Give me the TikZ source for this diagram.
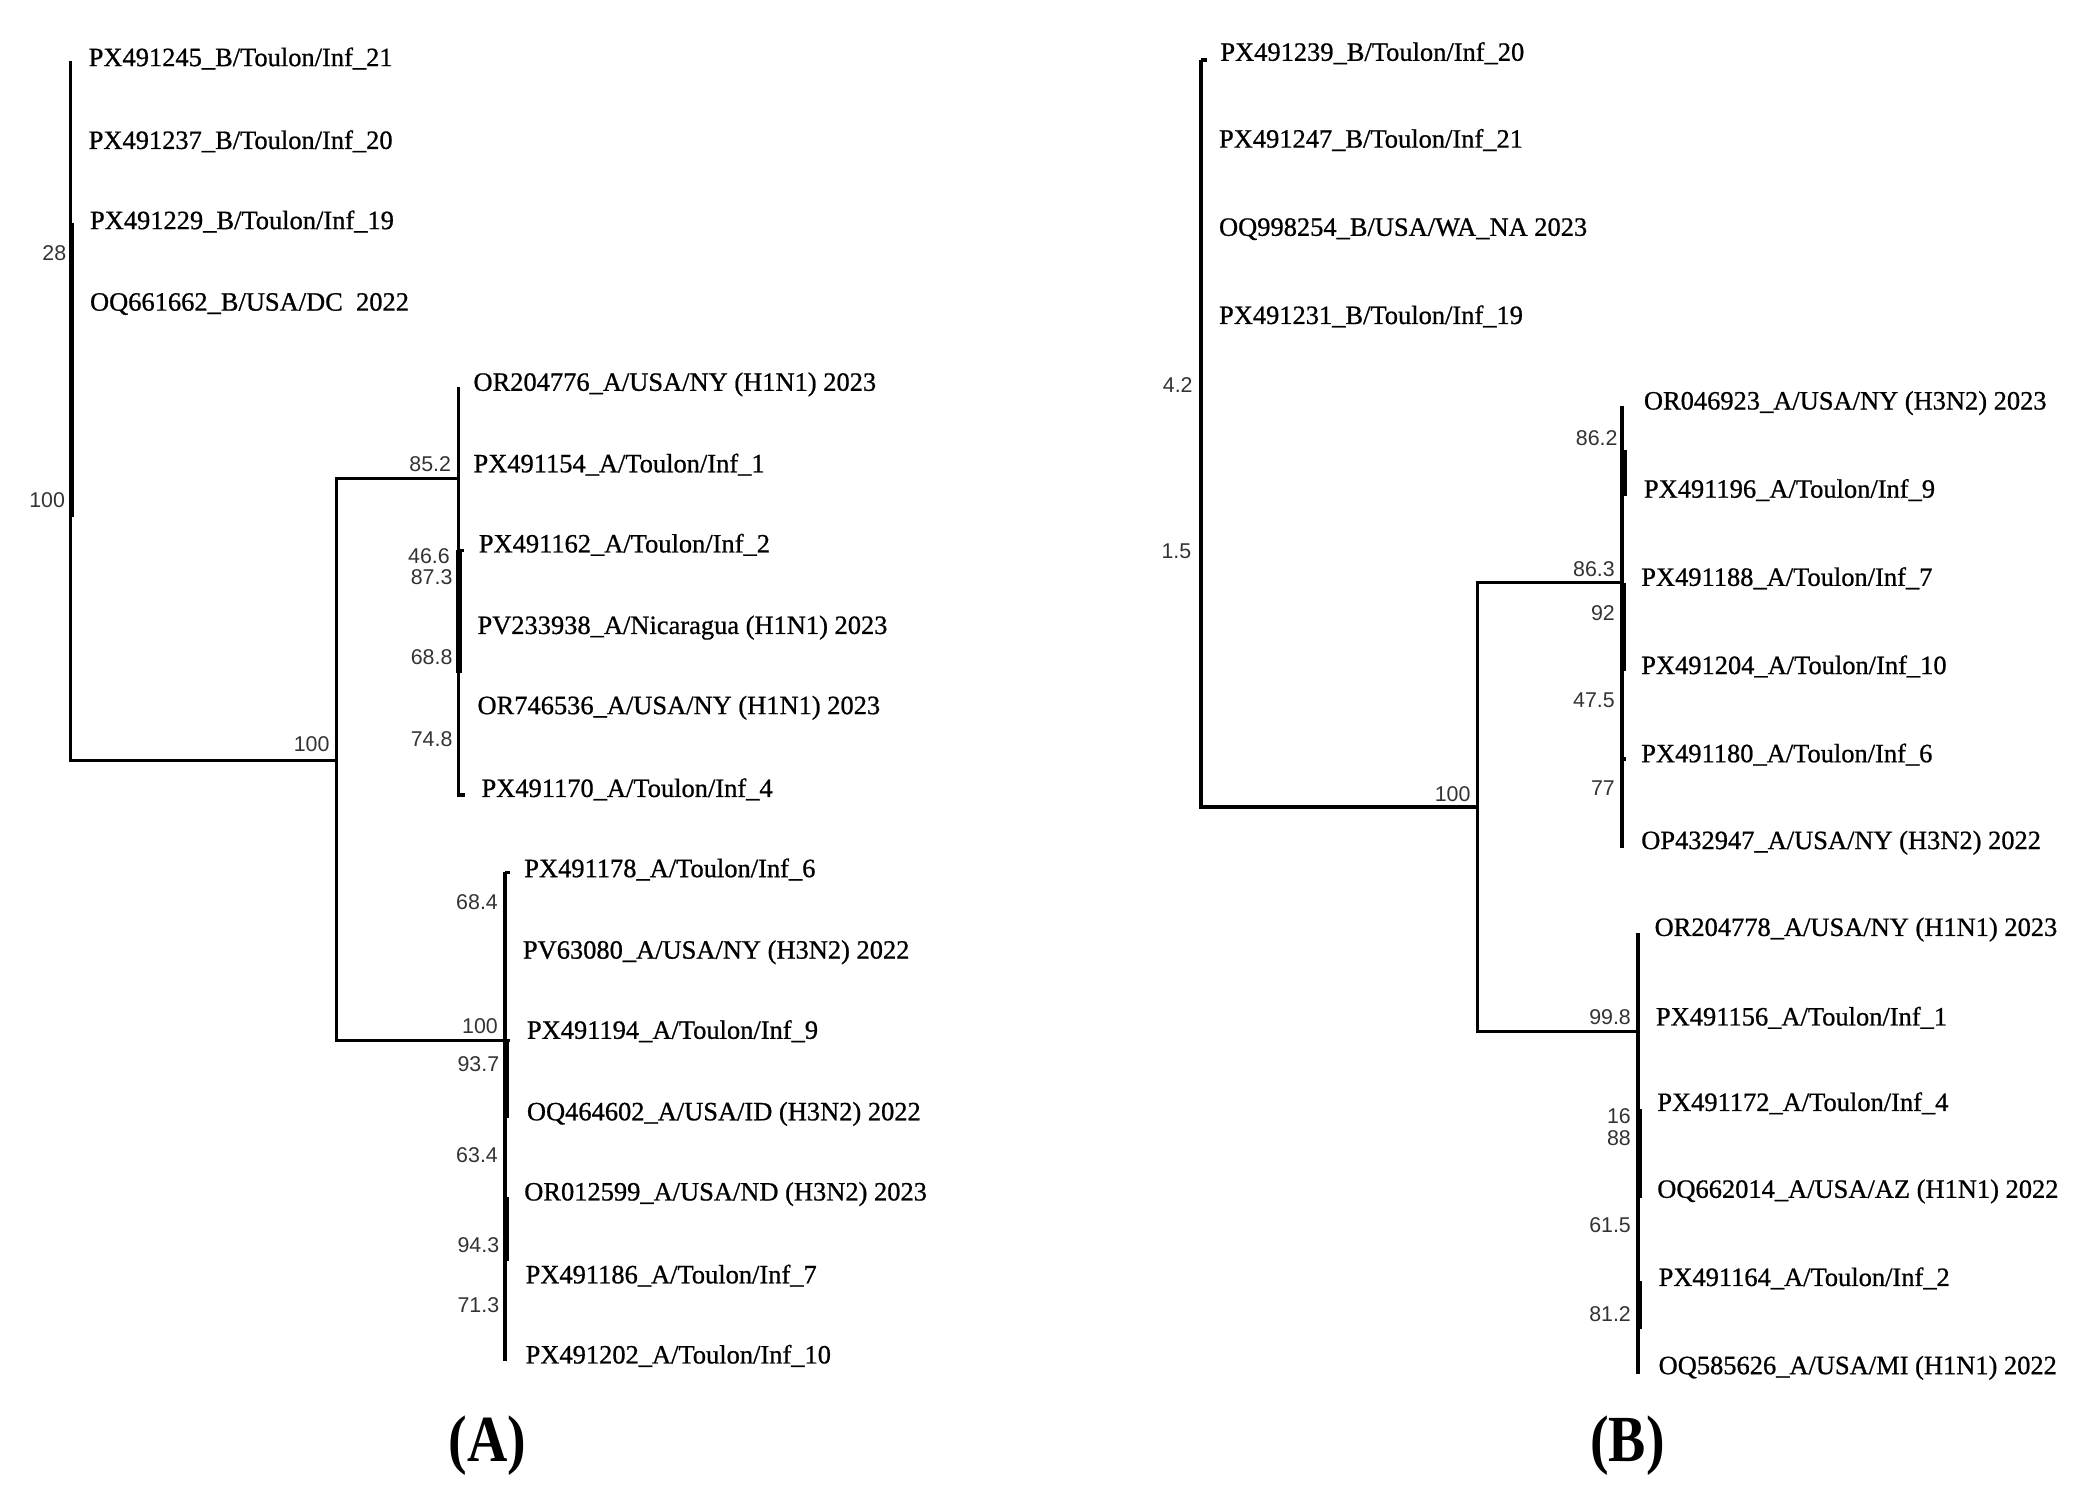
\documentclass[tikz,border=0pt]{standalone}
\usepackage{fontspec}
\setmainfont{Liberation Serif}
\newfontfamily\leaffont[FakeBold=0.8]{Liberation Serif}
\newfontfamily\numfont{Liberation Sans}
\begin{document}
\begin{tikzpicture}[x=0.5pt,y=-0.5pt,
  br/.style={line width=1.25pt,line join=miter,line cap=butt},
  thk/.style={line width=2.2pt,line cap=butt},
  leaf/.style={font=\leaffont\fontsize{9.9}{11}\selectfont,anchor=west,inner sep=0pt,text height=6.5pt,text depth=0pt},
  bs/.style={font=\numfont\fontsize{8}{9}\selectfont,text=black!80,anchor=east,inner sep=0pt,text height=5.7pt,text depth=0pt},
  panellabel/.style={font=\bfseries\fontsize{22}{24}\selectfont,inner sep=0pt,transform shape,yscale=1.12,xscale=0.95}]
\useasboundingbox (0,0) rectangle (1568,1127);
% ================= Panel A =================
\coordinate (RAt) at (53,46);
\coordinate (RA) at (53,569);
\coordinate (A1) at (252,569);
\coordinate (A1t) at (252,358);
\coordinate (A1b) at (252,779);
\coordinate (A2) at (343,358);
\coordinate (A2t) at (343,290);
\coordinate (A2b) at (343,595);
\coordinate (A3) at (378,779);
\coordinate (A3t) at (378,653);
\coordinate (A3b) at (378,1019);
\draw[br] (RAt) -- (RA) -- (A1);
\draw[br] (A2) -- (A1t) -- (A1b) -- (A3);
\draw[br] (A2t) -- (A2b) -- ++(5,0);
\draw[br] (A3t) -- (A3b);
\draw[br] (A3t) -- ++(4,0);
\draw[br] (A3) -- ++(4,0);
\draw[thk] (53.5,167) -- (53.5,387);
\draw[thk] (343.5,412) -- (343.5,504);
\draw[br] (343,412) -- ++(4,0);
\draw[thk] (378.5,778) -- (378.5,837);
\draw[thk] (378.5,896) -- (378.5,944);
% leaves A
\node[leaf] (la1) at (66,43) {PX491245\_B/Toulon/Inf\_21};
\node[leaf] (la2) at (66,105) {PX491237\_B/Toulon/Inf\_20};
\node[leaf] (la3) at (67,165) {PX491229\_B/Toulon/Inf\_19};
\node[leaf] (la4) at (67,226) {OQ661662\_B/USA/DC~~2022};
\node[leaf] (la5) at (354,286) {OR204776\_A/USA/NY (H1N1) 2023};
\node[leaf] (la6) at (354,347) {PX491154\_A/Toulon/Inf\_1};
\node[leaf] (la7) at (358,407) {PX491162\_A/Toulon/Inf\_2};
\node[leaf] (la8) at (357,468) {PV233938\_A/Nicaragua (H1N1) 2023};
\node[leaf] (la9) at (357,528) {OR746536\_A/USA/NY (H1N1) 2023};
\node[leaf] (la10) at (360,590) {PX491170\_A/Toulon/Inf\_4};
\node[leaf] (la11) at (392,650) {PX491178\_A/Toulon/Inf\_6};
\node[leaf] (la12) at (391,711) {PV63080\_A/USA/NY (H3N2) 2022};
\node[leaf] (la13) at (394,771) {PX491194\_A/Toulon/Inf\_9};
\node[leaf] (la14) at (394,832) {OQ464602\_A/USA/ID (H3N2) 2022};
\node[leaf] (la15) at (392,892) {OR012599\_A/USA/ND (H3N2) 2023};
\node[leaf] (la16) at (393,954) {PX491186\_A/Toulon/Inf\_7};
\node[leaf] (la17) at (393,1014) {PX491202\_A/Toulon/Inf\_10};
% bootstrap A
\node[bs] (na1) at (50,189) {28};
\node[bs] (na2) at (49,374) {100};
\node[bs] (na3) at (247,557) {100};
\node[bs] (na4) at (338,347) {85.2};
\node[bs] (na5) at (337,416) {46.6};
\node[bs] (na6) at (339,432) {87.3};
\node[bs] (na7) at (339,492) {68.8};
\node[bs] (na8) at (339,553) {74.8};
\node[bs] (na9) at (373,675) {68.4};
\node[bs] (na10) at (373,768) {100};
\node[bs] (na11) at (374,796) {93.7};
\node[bs] (na12) at (373,864) {63.4};
\node[bs] (na13) at (374,932) {94.3};
\node[bs] (na14) at (374,977) {71.3};
% ================= Panel B =================
\coordinate (RBt) at (899,45);
\coordinate (RB) at (899,604);
\coordinate (B1) at (1106,604);
\coordinate (B1t) at (1106,436);
\coordinate (B1b) at (1106,772);
\coordinate (B2) at (1214,436);
\coordinate (B2t) at (1214,304);
\coordinate (B2b) at (1214,635);
\coordinate (B3) at (1226,772);
\coordinate (B3t) at (1226,698);
\coordinate (B3b) at (1226,1028);
\draw[br] (RBt) -- (RB) -- (B1);
\draw[br] (RBt) -- ++(4,0);
\draw[br] (B2) -- (B1t) -- (B1b) -- (B3);
\draw[br] (B2t) -- (B2b);
\draw[br] (B3t) -- (B3b);
\draw[line width=2.8pt] (1215,337) -- (1215,371);
\draw[thk] (1214.5,436) -- (1214.5,502);
\draw[br] (1214,568) -- ++(3,0);
\draw[thk] (1226.5,830) -- (1226.5,897);
\draw[thk] (1226.5,959) -- (1226.5,995);
% leaves B
\node[leaf] (lb1) at (913,39) {PX491239\_B/Toulon/Inf\_20};
\node[leaf] (lb2) at (912,104) {PX491247\_B/Toulon/Inf\_21};
\node[leaf] (lb3) at (912,170) {OQ998254\_B/USA/WA\_NA 2023};
\node[leaf] (lb4) at (912,236) {PX491231\_B/Toulon/Inf\_19};
\node[leaf] (lb5) at (1230,300) {OR046923\_A/USA/NY (H3N2) 2023};
\node[leaf] (lb6) at (1230,366) {PX491196\_A/Toulon/Inf\_9};
\node[leaf] (lb7) at (1228,432) {PX491188\_A/Toulon/Inf\_7};
\node[leaf] (lb8) at (1228,498) {PX491204\_A/Toulon/Inf\_10};
\node[leaf] (lb9) at (1228,564) {PX491180\_A/Toulon/Inf\_6};
\node[leaf] (lb10) at (1228,629) {OP432947\_A/USA/NY (H3N2) 2022};
\node[leaf] (lb11) at (1238,694) {OR204778\_A/USA/NY (H1N1) 2023};
\node[leaf] (lb12) at (1239,761) {PX491156\_A/Toulon/Inf\_1};
\node[leaf] (lb13) at (1240,825) {PX491172\_A/Toulon/Inf\_4};
\node[leaf] (lb14) at (1240,890) {OQ662014\_A/USA/AZ (H1N1) 2022};
\node[leaf] (lb15) at (1241,956) {PX491164\_A/Toulon/Inf\_2};
\node[leaf] (lb16) at (1241,1022) {OQ585626\_A/USA/MI (H1N1) 2022};
% bootstrap B
\node[bs] (nb1) at (893,288) {4.2};
\node[bs] (nb2) at (892,412) {1.5};
\node[bs] (nb3) at (1101,594) {100};
\node[bs] (nb4) at (1211,328) {86.2};
\node[bs] (nb5) at (1209,426) {86.3};
\node[bs] (nb6) at (1209,459) {92};
\node[bs] (nb7) at (1209,524) {47.5};
\node[bs] (nb8) at (1209,590) {77};
\node[bs] (nb9) at (1221,761) {99.8};
\node[bs] (nb10) at (1221,835) {16};
\node[bs] (nb11) at (1221,852) {88};
\node[bs] (nb12) at (1221,917) {61.5};
\node[bs] (nb13) at (1221,983) {81.2};
% captions
\begin{scope}[shift={(365,1082)}]
\node[panellabel] (capA) at (0,0) {(A)};
\end{scope}
\begin{scope}[shift={(1218,1082)}]
\node[panellabel] (capB) at (0,0) {(B)};
\end{scope}
\end{tikzpicture}
\end{document}
